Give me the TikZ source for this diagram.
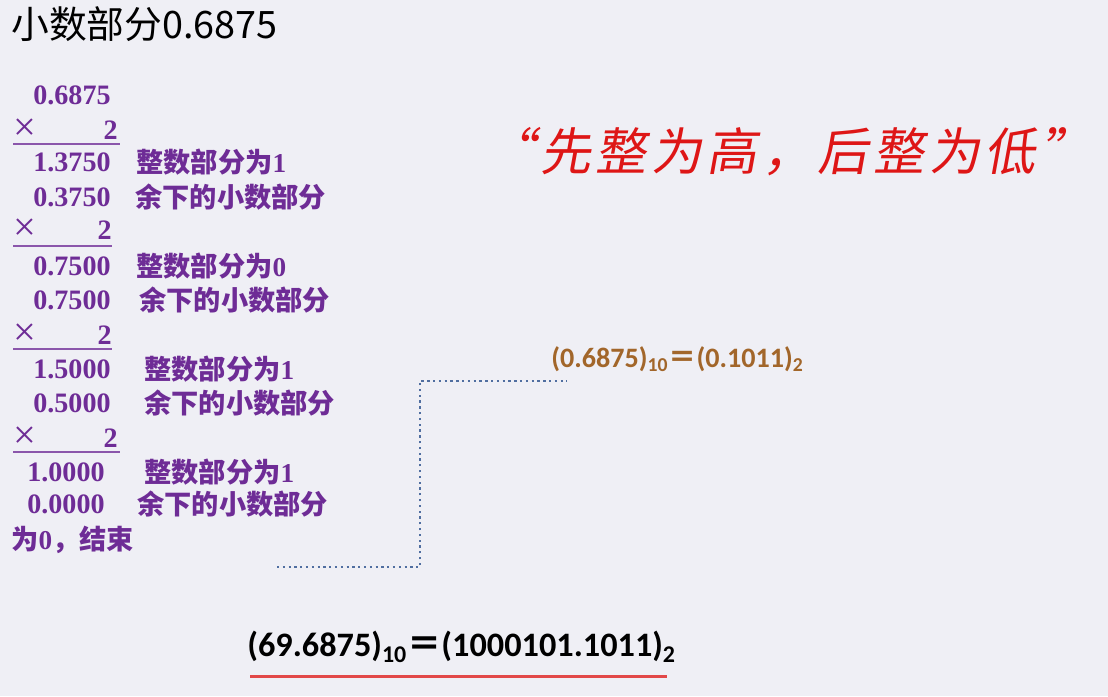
\documentclass[tikz,border=0pt]{standalone}
\usepackage{fontspec}
\setmainfont{Liberation Serif}
\newfontfamily\cjk{Noto Sans CJK SC}
\newfontfamily\calib{Carlito}
\newfontfamily\quotefont[FakeSlant=0.18,LetterSpace=9]{Noto Sans CJK SC}
\definecolor{bgcol}{RGB}{239,239,245}
\definecolor{purp}{RGB}{110,44,150}
\definecolor{brwn}{RGB}{162,102,42}
\definecolor{quotered}{RGB}{222,22,22}
\definecolor{ulred}{RGB}{226,72,72}
\definecolor{dotblue}{RGB}{80,110,160}

\begin{document}
\begin{tikzpicture}[x=0.02cm,y=-0.02cm,inner sep=0pt,
		purnum/.style={anchor=west,text=purp,font=\fontsize{16pt}{18pt}\selectfont\bfseries},
		purtxt/.style={anchor=west,text=purp,font=\fontsize{15.5pt}{18pt}\selectfont\bfseries},
		purtimes/.style={anchor=west,text=purp,font=\fontsize{23pt}{24pt}\selectfont},
		purrule/.style={purp!80,line width=1.2pt},
		dotline/.style={dotblue,dotted,line width=1.3pt}]
			\useasboundingbox (0,0) rectangle (1108,696);
			\fill[bgcol] (0,0) rectangle (1108,696);
			% title
			\node[anchor=west,font=\fontsize{21.5pt}{24pt}\selectfont\cjk] (title) at (11,24){小数部分0.6875};
			% multiplication steps
			\node[purnum] (n0) at (33,95){0.6875};
			\node[purtimes] (x1) at (13,130){×};
			\node[purnum,anchor=east] (m1) at (118,130){2};
			\draw[purrule] (13,144) -- (120,144);
			\node[purnum] (n1) at (33,162){1.3750};
			\node[purtxt] (a1) at (136,162){{\cjk 整数部分为}1};
			\node[purnum] (f1) at (33,197){0.3750};
			\node[purtxt] (b1) at (135,197){\cjk 余下的小数部分};
			\node[purtimes] (x2) at (13,230){×};
			\node[purnum,anchor=east] (m2) at (112,230){2};
			\draw[purrule] (13,246) -- (112,246);
			\node[purnum] (n2) at (33,266){0.7500};
			\node[purtxt] (a2) at (136,266){{\cjk 整数部分为}0};
			\node[purnum] (f2) at (33,300){0.7500};
			\node[purtxt] (b2) at (139,300){\cjk 余下的小数部分};
			\node[purtimes] (x3) at (13,335){×};
			\node[purnum,anchor=east] (m3) at (112,335){2};
			\draw[purrule] (13,349) -- (112,349);
			\node[purnum] (n3) at (33,369){1.5000};
			\node[purtxt] (a3) at (144,369){{\cjk 整数部分为}1};
			\node[purnum] (f3) at (33,403){0.5000};
			\node[purtxt] (b3) at (144,403){\cjk 余下的小数部分};
			\node[purtimes] (x4) at (13,438){×};
			\node[purnum,anchor=east] (m4) at (118,438){2};
			\draw[purrule] (13,452) -- (120,452);
			\node[purnum] (n4) at (27,472){1.0000};
			\node[purtxt] (a4) at (144,472){{\cjk 整数部分为}1};
			\node[purnum] (f4) at (27,504){0.0000};
			\node[purtxt] (b4) at (137,504){\cjk 余下的小数部分};
			\node[purtxt] (stop) at (11,540){{\cjk 为}0{\cjk ，结束}};
			% motto
			\node[anchor=west,text=quotered,font=\fontsize{29pt}{32pt}\selectfont\quotefont] (motto) at (516,152){\kern-0.62em“先整为高，后整为低”\kern-0.75em};
			% results
			\node[anchor=west,text=brwn,font=\fontsize{16pt}{18pt}\selectfont\calib\bfseries] (frac) at (551,359){(0.6875)\textsubscript{10}{\cjk ＝}(0.1011)\textsubscript{2}};
			\node[anchor=west,font=\fontsize{19.5pt}{22pt}\selectfont\calib\bfseries] (total) at (247,647){(69.6875)\textsubscript{10}{\cjk ＝}(1000101.1011)\textsubscript{2}};
			\draw[ulred,line width=1.6pt] (total.south west) ++(3,14) -- ++(417,0);
			%\draw (total.south west) -- (total.south east);
			\coordinate (dstart) at (277,567);
			\coordinate (dend) at (567,381);
			\draw[dotline] (dstart) -- ++(143,0) |- (dend);
		\end{tikzpicture}
\end{document}
